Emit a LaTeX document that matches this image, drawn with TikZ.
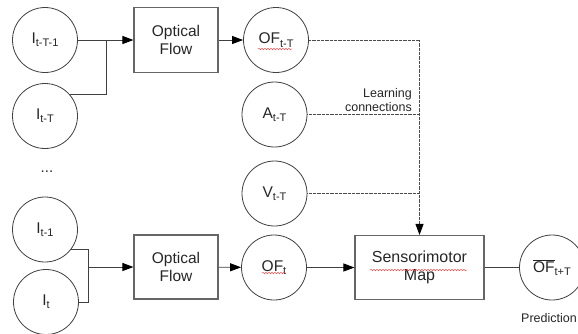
\documentclass[tikz,border=0pt]{standalone}
\usepackage{fontspec}
\setmainfont{Liberation Sans}
\usetikzlibrary{arrows.meta,decorations.pathmorphing}
\newcommand{\sbs}[1]{\raisebox{-0.4ex}{\fontsize{11}{11}\selectfont #1}}
\begin{document}
\begin{tikzpicture}[x=1pt,y=-1pt,
  circ/.style={circle, draw=black!75, line width=0.8pt, minimum size=65pt, inner sep=0pt,
    font=\fontsize{15.5}{15}\selectfont, text=black!85},
  box/.style={draw=black!60, line width=1.1pt, inner sep=0pt, align=center,
    font=\fontsize{15.5}{18}\selectfont, text=black!85},
  conn/.style={draw=black!75, line width=0.9pt},
  arr/.style={conn, -{Triangle[length=11pt,width=8pt,color=black]}},
  learn/.style={draw=black!70, line width=0.8pt, dash pattern=on 0.7pt off 0.6pt},
  learnarr/.style={learn, -{Triangle[length=11pt,width=8pt,color=black,fill=black]}},
  lbl/.style={font=\fontsize{12.5}{14}\selectfont, text=black!85, inner sep=0pt},
  squig/.style={draw=red!80, line width=0.4pt, decorate,
    decoration={snake, amplitude=0.8pt, segment length=3pt}}
]
\useasboundingbox (0,0) rectangle (578,333);

% inputs
\node[circ] (i1) at (45,40) {I\sbs{t-T-1}};
\node[circ] (i2) at (45,116) {I\sbs{t-T}};
\node[lbl, font=\fontsize{15}{15}\selectfont, anchor=base] (dots) at (47,172) {...};
\node[circ] (i3) at (45,229.5) {I\sbs{t-1}};
\node[circ] (i4) at (46,302) {I\sbs{t}};

% optical flow boxes
\node[box, minimum width=84pt, minimum height=65pt] (of1) at (176,40) {Optical\\Flow};
\node[box, minimum width=84pt, minimum height=64pt] (of2) at (176,267) {Optical\\Flow};

% middle column
\node[circ] (oft) at (276,40) {OF\sbs{t-T}};
\node[circ] (a) at (274.5,114.5) {A\sbs{t-T}};
\node[circ] (v) at (274.5,193.5) {V\sbs{t-T}};
\node[circ] (ofn) at (274,267.5) {OF\sbs{t}};

% sensorimotor map
\node[box, minimum width=129pt, minimum height=64pt, font=\fontsize{16}{18}\selectfont] (sm) at (419.5,267.5) {Sensorimotor\\Map};

% prediction
\node[circ] (pred) at (552,267.5) {$\overline{\hbox{OF}}$\sbs{t+T}};
\node[lbl] (predlbl) at (549,318) {Prediction};

% learning label
\node[lbl, align=right, anchor=east] (lc) at (412,100) {Learning\\connections};

% top connections
\coordinate (j1) at (106,40);
\draw[arr] (i1.east) -- (of1.west);
\draw[conn] (i2.40) -| (j1);
\draw[arr] (of1) -- (oft);

% bottom connections
\coordinate (j2) at (88,267);
\draw[conn] (i3.-37) -| (j2);
\draw[conn] (i4.east) -| (j2);
\draw[arr] (j2) -- (of2.west);
\draw[arr] (of2) -- (ofn);
\draw[arr] (ofn.east) -- (ofn.east -| sm.west);
\draw[conn] (sm) -- (pred);

% learning connections
\draw[learnarr] (oft.east) -| (sm.north);
\draw[learn] (a.east) -- (a.east -| sm.north);
\draw[learn] (v.east) -- (v.east -| sm.north);

% spell-check squiggles
\draw[squig] (258,49) -- (292,49);
\draw[squig] (262,273) -- (286,273);
\draw[squig] (370,270) -- (467,270);
\end{tikzpicture}
\end{document}
